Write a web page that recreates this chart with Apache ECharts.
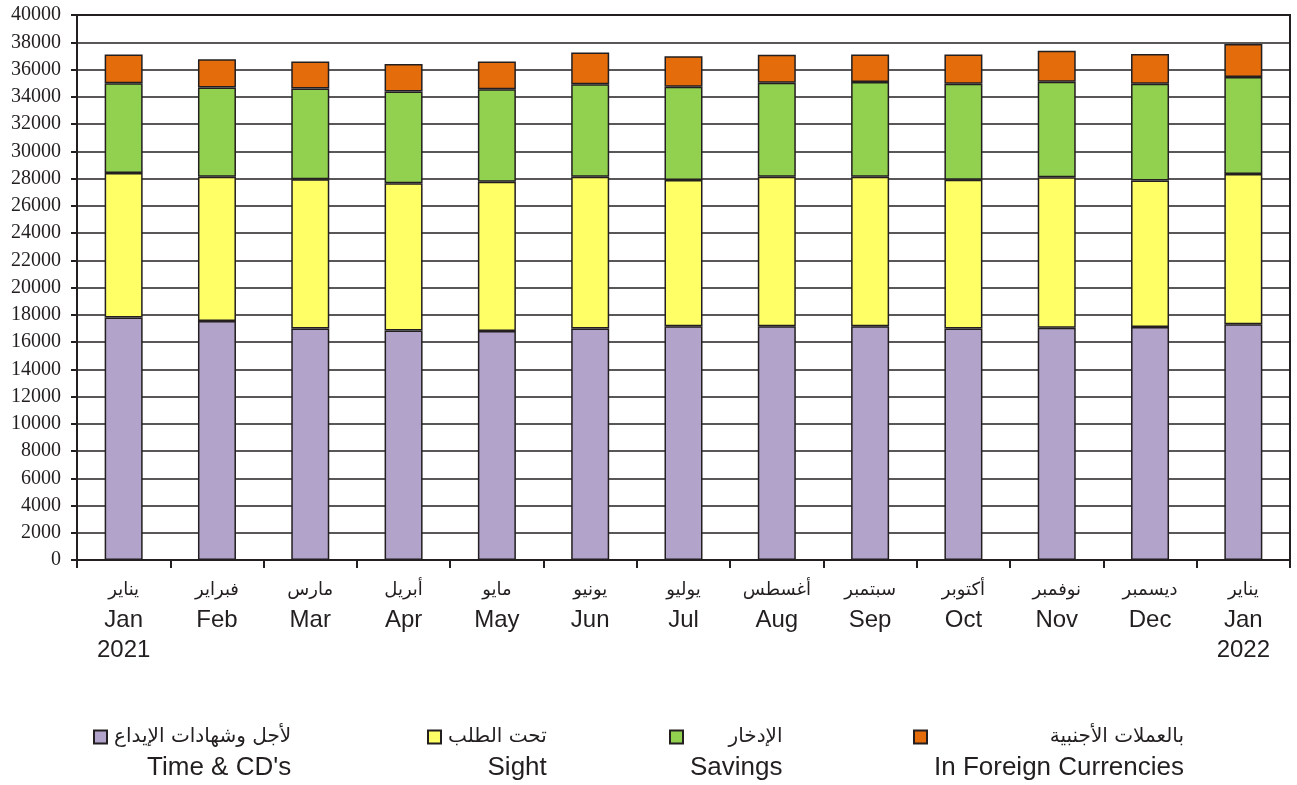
<!DOCTYPE html>
<html>
<head>
<meta charset="utf-8">
<script src="https://cdn.jsdelivr.net/npm/echarts@6/dist/echarts.min.js"></script>
<style>
  html, body { margin: 0; padding: 0; background: #fff; }
  #chart { width: 1297px; height: 785px; }
</style>
</head>
<body>
<div id="chart"></div>
<script>
// month labels: Arabic / English / year
var monthsAr = ['يناير', 'فبراير', 'مارس', 'أبريل', 'مايو', 'يونيو', 'يوليو', 'أغسطس', 'سبتمبر', 'أكتوبر', 'نوفمبر', 'ديسمبر', 'يناير']
var monthsEn = ['Jan', 'Feb', 'Mar', 'Apr', 'May', 'Jun', 'Jul', 'Aug', 'Sep', 'Oct', 'Nov', 'Dec', 'Jan']
var years = ['2021', '', '', '', '', '', '', '', '', '', '', '', '2022']

var timeDeposits = [17800, 17550, 17000, 16850, 16800, 17000, 17150, 17150, 17150, 17000, 17050, 17100, 17300]
var sight = [10600, 10580, 10950, 10800, 10970, 11130, 10740, 10980, 10980, 10900, 11040, 10750, 11030]
var savings = [6600, 6540, 6650, 6730, 6780, 6780, 6850, 6900, 6950, 7050, 7020, 7100, 7120]
var foreign = [2100, 2080, 1980, 2020, 2030, 2330, 2230, 2060, 2030, 2160, 2270, 2190, 2420]

var yTicks = { min: 0, max: 40000, interval: 2000 }

var seriesNames = [
  { ar: 'لأجل وشهادات الإيداع', en: "Time & CD's" },
  { ar: 'تحت الطلب', en: 'Sight' },
  { ar: 'الإدخار', en: 'Savings' },
  { ar: 'بالعملات الأجنبية', en: 'In Foreign Currencies' }
]
var seriesData = [timeDeposits, sight, savings, foreign]
var colors = ['#b1a3c9', '#ffff66', '#92d050', '#e46c0a']
var legendLeft = [93, 427, 669, 913]

var dark = '#231f20'
var categories = monthsEn.map(function (m, i) { return i })

var chart = echarts.init(document.getElementById('chart'))

var legends = seriesNames.map(function (s, i) {
  return {
    data: [s.ar],
    left: legendLeft[i],
    top: 701,
    padding: 0,
    icon: 'rect',
    itemWidth: 13,
    itemHeight: 13,
    itemGap: 0,
    selectedMode: false,
    formatter: function (name) {
      return '{b| }\n{a|' + name + '}\n{e|' + s.en + '}'
    },
    textStyle: {
      padding: [0, 0, 0, 2],
      rich: {
        b: { fontSize: 10, lineHeight: 32, align: 'right' },
        a: { fontSize: 20, lineHeight: 30, align: 'right', color: dark, fontFamily: 'DejaVu Sans' },
        e: { fontSize: 26, lineHeight: 32, align: 'right', color: dark, fontFamily: 'Liberation Sans' }
      }
    }
  }
})

chart.setOption({
  animation: false,
  legend: legends,
  grid: {
    left: 77,
    right: 7,
    top: 15,
    bottom: 225,
    show: true,
    borderColor: dark,
    borderWidth: 2
  },
  xAxis: {
    type: 'category',
    data: categories,
    axisLine: { lineStyle: { color: dark, width: 2 } },
    axisTick: { show: true, interval: 0, length: 8, lineStyle: { color: dark, width: 2 } },
    axisLabel: {
      interval: 0,
      margin: 15,
      formatter: function (v, i) {
        var s = '{a|' + monthsAr[i] + '}\n{e|' + monthsEn[i] + '}'
        if (years[i]) s += '\n{e|' + years[i] + '}'
        return s
      },
      rich: {
        a: { fontSize: 18, lineHeight: 30, color: dark, fontFamily: 'DejaVu Sans' },
        e: { fontSize: 24, lineHeight: 30, color: dark, fontFamily: 'Liberation Sans' }
      }
    }
  },
  yAxis: {
    type: 'value',
    min: yTicks.min,
    max: yTicks.max,
    interval: yTicks.interval,
    axisLine: { show: true, lineStyle: { color: dark, width: 2 } },
    axisTick: { show: true, length: 6, lineStyle: { color: dark, width: 2 } },
    axisLabel: {
      margin: 16,
      fontSize: 20,
      color: dark,
      fontFamily: 'Liberation Serif',
      formatter: function (v) { return String(v) }
    },
    splitLine: { lineStyle: { color: dark, width: 1.5 } }
  },
  series: seriesNames.map(function (s, i) {
    return {
      name: s.ar,
      type: 'bar',
      stack: 'total',
      barWidth: 38,
      data: seriesData[i],
      itemStyle: { color: colors[i], borderColor: dark, borderWidth: 1.5 }
    }
  })
})
</script>
</body>
</html>
